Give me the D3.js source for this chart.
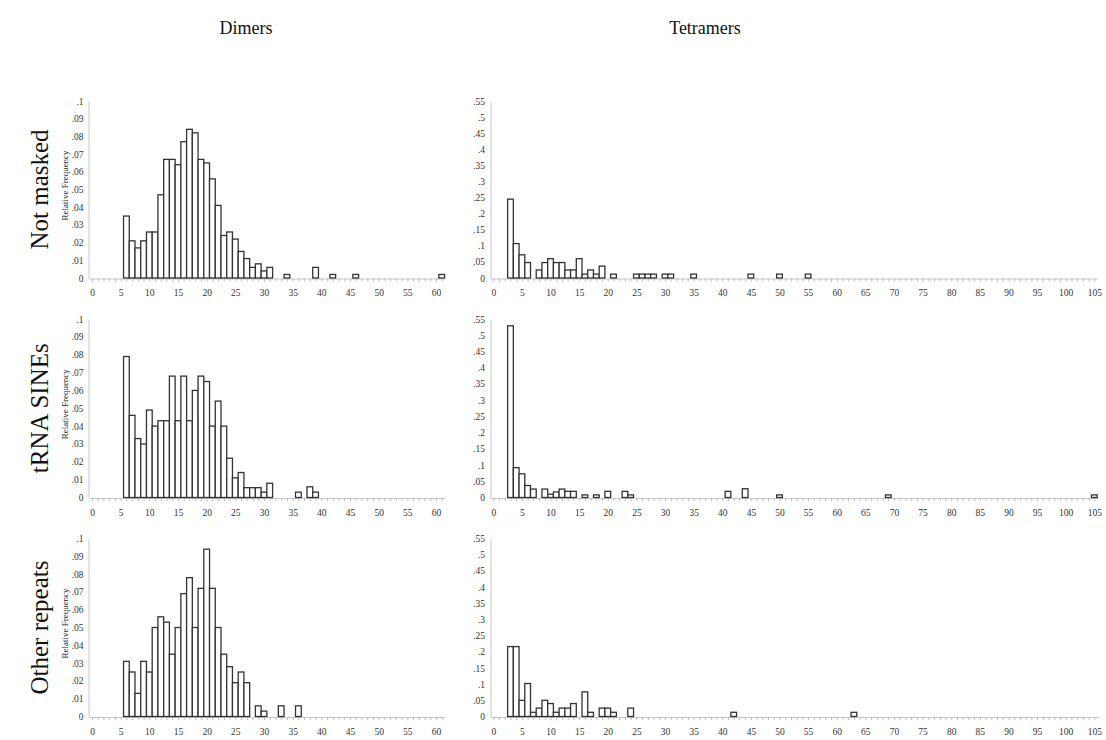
<!DOCTYPE html>
<html>
<head>
<meta charset="utf-8">
<script src="https://cdn.jsdelivr.net/npm/d3@7"></script>
<style>
  html, body { margin: 0; padding: 0; background: #fff; }
  svg { display: block; }
  text { font-family: "Liberation Serif", "Times New Roman", serif; }
</style>
</head>
<body>
<svg id="chart" width="1106" height="740"></svg>
<script>
// ---------- data ----------
const colTitles = ["Dimers", "Tetramers"];
const rowTitles = ["Not masked", "tRNA SINEs", "Other repeats"];
const yAxisTitle = "Relative Frequency";

const dimerTicksY = [0, .01, .02, .03, .04, .05, .06, .07, .08, .09, .1];
const tetramerTicksY = [0, .05, .1, .15, .2, .25, .3, .35, .4, .45, .5, .55];
const dimerTicksX = d3.range(0, 61, 5);
const tetramerTicksX = d3.range(0, 106, 5);

// Dimers, Not masked
const dimNotMaskedLen  = [6, 7, 8, 9, 10, 11, 12, 13, 14, 15, 16, 17, 18, 19, 20, 21, 22, 23, 24, 25, 26, 27, 28, 29, 30, 31, 34, 39, 42, 46, 61];
const dimNotMaskedFreq = [.035, .021, .017, .021, .026, .026, .047, .067, .067, .064, .077, .084, .082, .067, .065, .056, .041, .024, .026, .022, .015, .011, .006, .008, .004, .006, .002, .006, .002, .002, .002];
// Dimers, tRNA SINEs
const dimTrnaLen  = [6, 7, 8, 9, 10, 11, 12, 13, 14, 15, 16, 17, 18, 19, 20, 21, 22, 23, 24, 25, 26, 27, 28, 29, 30, 31, 36, 38, 39];
const dimTrnaFreq = [.079, .046, .033, .030, .049, .040, .043, .043, .068, .043, .068, .043, .060, .068, .065, .040, .054, .040, .022, .011, .014, .0055, .0055, .0055, .003, .008, .003, .006, .003];
// Dimers, Other repeats
const dimOtherLen  = [6, 7, 8, 9, 10, 11, 12, 13, 14, 15, 16, 17, 18, 19, 20, 21, 22, 23, 24, 25, 26, 27, 29, 30, 33, 36];
const dimOtherFreq = [.031, .025, .013, .031, .025, .050, .056, .053, .035, .050, .069, .078, .050, .072, .094, .072, .050, .035, .028, .019, .025, .019, .006, .003, .006, .006];

// Tetramers, Not masked
const tetNotMaskedLen  = [3, 4, 5, 6, 8, 9, 10, 11, 12, 13, 14, 15, 16, 17, 18, 19, 21, 25, 26, 27, 28, 30, 31, 35, 45, 50, 55];
const tetNotMaskedFreq = [.245, .107, .072, .048, .025, .048, .060, .048, .048, .025, .025, .060, .012, .025, .012, .037, .012, .012, .012, .012, .012, .012, .012, .012, .012, .012, .012];
// Tetramers, tRNA SINEs
const tetTrnaLen  = [3, 4, 5, 6, 7, 9, 10, 11, 12, 13, 14, 16, 18, 20, 23, 24, 41, 44, 50, 69, 105];
const tetTrnaFreq = [.529, .092, .073, .037, .026, .026, .010, .017, .026, .019, .019, .008, .008, .019, .019, .008, .019, .027, .008, .008, .008];
// Tetramers, Other repeats
const tetOtherLen  = [3, 4, 5, 6, 7, 8, 9, 10, 11, 12, 13, 14, 16, 17, 19, 20, 21, 24, 42, 63];
const tetOtherFreq = [.216, .216, .050, .102, .013, .026, .050, .040, .013, .026, .026, .040, .076, .013, .026, .026, .013, .026, .013, .013];

// ---------- layout ----------
const svg = d3.select("#chart");
const rowBase = [278, 497.5, 716.5];
const rowTop = [101, 319, 538.5];

const cols = [
  { x0: 92, pxPerUnit: 5.733, maxTick: 61, yMax: 0.1, yTicks: dimerTicksY, xLabels: dimerTicksX, yAxisX: 88.5, labelX: 83.5,
    data: [[dimNotMaskedLen, dimNotMaskedFreq], [dimTrnaLen, dimTrnaFreq], [dimOtherLen, dimOtherFreq]], showTitle: true },
  { x0: 493.3, pxPerUnit: 5.724, maxTick: 105, yMax: 0.55, yTicks: tetramerTicksY, xLabels: tetramerTicksX, yAxisX: 490.5, labelX: 485,
    data: [[tetNotMaskedLen, tetNotMaskedFreq], [tetTrnaLen, tetTrnaFreq], [tetOtherLen, tetOtherFreq]], showTitle: false }
];

const fmtY = d => d === 0 ? "0" : d3.format(".2~f")(d).replace(/^0/, "");

// column titles
svg.append("text").attr("x", 246).attr("y", 34).attr("text-anchor", "middle")
  .attr("font-size", 18).attr("fill", "#111").text(colTitles[0]);
svg.append("text").attr("x", 705).attr("y", 34).attr("text-anchor", "middle")
  .attr("font-size", 18).attr("fill", "#111").text(colTitles[1]);

// row titles
rowTitles.forEach((t, r) => {
  const cy = (rowBase[r] + rowTop[r]) / 2;
  svg.append("text")
    .attr("transform", `translate(48,${cy}) rotate(-90)`)
    .attr("text-anchor", "middle").attr("font-size", 25).attr("fill", "#111").text(t);
});

cols.forEach((c, ci) => {
  c.data.forEach((series, r) => {
    const g = svg.append("g");
    const x = d3.scaleLinear()
      .domain([-0.6, c.maxTick + 0.6])
      .range([c.x0 - 0.6 * c.pxPerUnit, c.x0 + (c.maxTick + 0.6) * c.pxPerUnit]);
    const y = d3.scaleLinear().domain([0, c.yMax]).range([rowBase[r], rowTop[r]]);

    // y axis
    const yAxis = d3.axisLeft(y).tickValues(c.yTicks).tickFormat(fmtY).tickSize(0).tickPadding(c.yAxisX - c.labelX);
    const ya = g.append("g").attr("transform", `translate(${c.yAxisX},0)`).call(yAxis);
    ya.select(".domain").attr("stroke", "#c8c8c8").attr("stroke-width", 1);
    ya.selectAll("text").attr("font-size", 9.5).attr("fill", "#333")
      .attr("font-family", "Liberation Serif, serif");

    // x axis
    const xAxis = d3.axisBottom(x).tickValues(d3.range(0, c.maxTick + 1))
      .tickFormat(d => d % 5 === 0 ? d : "").tickSize(3).tickSizeOuter(0).tickPadding(8);
    const xa = g.append("g").attr("transform", `translate(0,${rowBase[r] + 0.5})`).call(xAxis);
    xa.select(".domain").attr("stroke", "#c8c8c8").attr("stroke-width", 1);
    xa.selectAll(".tick line").attr("stroke", "#bdbdbd");
    xa.selectAll("text").attr("font-size", 9.5).attr("fill", "#333")
      .attr("font-family", "Liberation Serif, serif");

    // y axis title (dimers only)
    if (c.showTitle) {
      g.append("text")
        .attr("transform", `translate(68,${(rowBase[r] + rowTop[r]) / 2 - 4}) rotate(-90)`)
        .attr("text-anchor", "middle").attr("font-size", 9).attr("fill", "#222").text(yAxisTitle);
    }

    // bars
    const [lens, freqs] = series;
    const rows = lens.map((l, i) => ({ len: l, f: freqs[i] }));
    const w = x(1) - x(0);
    g.selectAll("rect.bar").data(rows).join("rect")
      .attr("class", "bar")
      .attr("x", d => x(d.len - 0.5))
      .attr("y", d => y(d.f))
      .attr("width", w)
      .attr("height", d => y(0) - y(d.f))
      .attr("fill", "#fff")
      .attr("stroke", "#333")
      .attr("stroke-width", 1.3);
  });
});
</script>
</body>
</html>
